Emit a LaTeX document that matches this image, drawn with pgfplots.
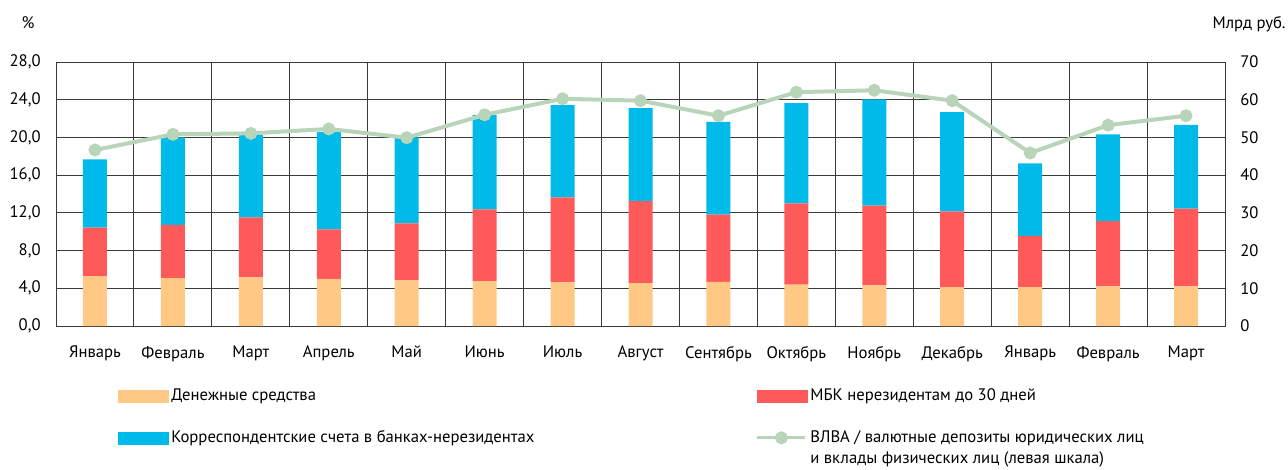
\documentclass[border=0pt]{standalone}
\usepackage{pgfplots}
\pgfplotsset{compat=1.18}
\usepackage{fontspec}
\setmainfont{PT Sans}
\definecolor{cOr}{HTML}{FFC985}
\definecolor{cRd}{HTML}{FF5A5A}
\definecolor{cBl}{HTML}{00BAEA}
\definecolor{cLn}{HTML}{B8D5B9}
\definecolor{cGr}{HTML}{3A3A3A}
\begin{document}
\begin{tikzpicture}[font=\fontsize{12.5}{16}\selectfont]
\useasboundingbox (-42pt,-107.25pt) rectangle (924pt,244.5pt);
\begin{axis}[
  at={(0,0)}, anchor=south west,
  width=876.75pt, height=198pt, scale only axis,
  xmin=-0.5, xmax=14.5, ymin=0, ymax=70,
  ybar stacked, bar width=18pt,
  xtick={0,...,14},
  xticklabels={Январь,Февраль,Март,Апрель,Май,Июнь,Июль,Август,Сентябрь,Октябрь,Ноябрь,Декабрь,Январь,Февраль,Март},
  minor xtick={-0.5,0.5,...,14.5},
  xminorgrids, ymajorgrids, xmajorgrids=false,
  ytick={0,10,...,70}, ytick pos=right, xtick pos=bottom,
  major tick length=0, minor tick length=0,
  grid style={cGr, line width=0.7pt},
  minor grid style={cGr, line width=0.7pt},
  axis line style={cGr, line width=0.7pt},
  yticklabel style={xshift=8pt},
  xticklabel style={yshift=-11.5pt},
  /pgf/number format/assume math mode=true,
]
\addplot[fill=cOr, draw=none] coordinates {(0,13.2) (1,12.7) (2,12.9) (3,12.5) (4,12.1) (5,11.9) (6,11.6) (7,11.4) (8,11.7) (9,11.0) (10,10.8) (11,10.3) (12,10.3) (13,10.5) (14,10.5)};
\addplot[fill=cRd, draw=none] coordinates {(0,12.9) (1,14.1) (2,15.9) (3,13.1) (4,15.1) (5,19.0) (6,22.5) (7,21.7) (8,17.8) (9,21.5) (10,21.1) (11,20.1) (12,13.6) (13,17.3) (14,20.6)};
\addplot[fill=cBl, draw=none] coordinates {(0,18.1) (1,23.2) (2,21.8) (3,25.9) (4,22.8) (5,25.1) (6,24.5) (7,24.7) (8,24.6) (9,26.6) (10,28.2) (11,26.3) (12,19.2) (13,23.0) (14,22.2)};
\end{axis}
\begin{axis}[
  at={(0,0)}, anchor=south west,
  width=876.75pt, height=198pt, scale only axis, clip=false,
  xmin=-0.5, xmax=14.5, ymin=0, ymax=28,
  xtick=\empty, ytick={0,4,...,28}, ytick pos=left,
  axis line style={draw=none},
  major tick length=0,
  yticklabel style={xshift=-8pt},
  /pgf/number format/.cd, fixed, fixed zerofill, precision=1, use comma, assume math mode=true,
  /pgfplots/.cd,
  legend columns=2,
  legend style={at={(0.0496,-0.217)}, anchor=north west, draw=none, fill=none,
    /tikz/every even column/.append style={column sep=164pt},
    row sep=17pt, cells={anchor=west}},
]
\addlegendimage{legend image code/.code={\fill[cOr] (0pt,-4.5pt) rectangle (37.5pt,4.5pt);}}
\addlegendentry{Денежные средства}
\addlegendimage{legend image code/.code={\fill[cRd] (0pt,-4.5pt) rectangle (37.5pt,4.5pt);}}
\addlegendentry{МБК нерезидентам до 30 дней}
\addlegendimage{legend image code/.code={\fill[cBl] (0pt,-4.5pt) rectangle (37.5pt,4.5pt);}}
\addlegendentry{Корреспондентские счета в банках-нерезидентах}
\addplot[cLn, line width=3pt, mark=*, mark size=3.3pt, mark options={fill=cLn, draw=cLn},
  legend image code/.code={\draw[cLn, line width=2.5pt] (0pt,0pt) -- (36pt,0pt); \fill[cLn] (18pt,0pt) circle (3.3pt);}]
  coordinates {(0,18.67) (1,20.33) (2,20.43) (3,20.9) (4,19.97) (5,22.4) (6,24.1) (7,23.9) (8,22.3) (9,24.8) (10,25.0) (11,23.9) (12,18.35) (13,21.3) (14,22.3)};
\addlegendentry{\raisebox{0pt}[\height][0pt]{\vtop{\baselineskip=15.75pt\hbox{ВЛВА / валютные депозиты юридических лиц}\hbox{и вклады физических лиц (левая шкала)}}}}
\node[anchor=center] at ([xshift=-21pt, yshift=29.25pt]rel axis cs:0,1) {\%};
\node[anchor=center] at ([xshift=18pt, yshift=28.5pt]rel axis cs:1,1) {Млрд руб.};
\end{axis}
\end{tikzpicture}
\end{document}
